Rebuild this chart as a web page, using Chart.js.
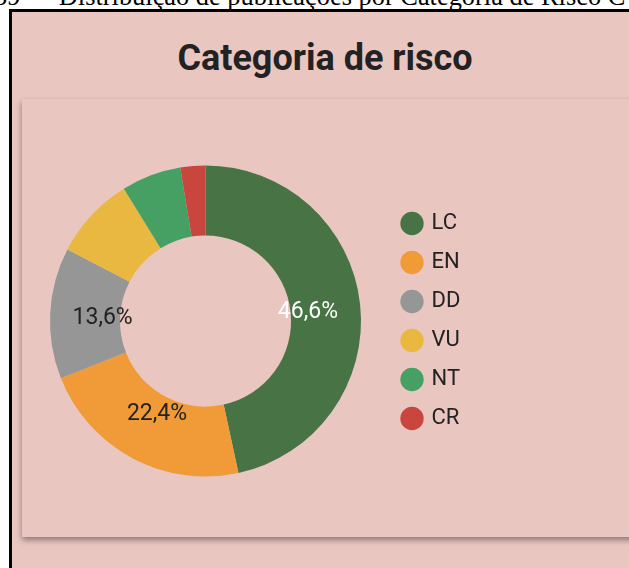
<!DOCTYPE html>
<html lang="pt-BR">
<head>
<meta charset="utf-8">
<title>Categoria de risco</title>
<script src="https://cdn.jsdelivr.net/npm/chart.js@4.4.1/dist/chart.umd.min.js"></script>
<style>
  html, body { margin: 0; padding: 0; background: #fff; overflow: hidden; }
  body { width: 629px; height: 568px; position: relative; }
  .legenda {
    position: absolute; top: -17px;
    font: 26.4px "Liberation Serif", "Times New Roman", serif;
    line-height: 26px; white-space: nowrap; color: #000;
  }
  #quadro {
    position: absolute; left: 9px; top: 9px; width: 626px; height: 600px;
    border: 3px solid #000; background: #eac6c1;
  }
  #titulo {
    position: absolute; left: 9px; top: 38px; width: 632px;
    text-align: center; font: bold 36px Roboto, sans-serif; line-height: 40px;
    color: #222;
  }
  #painel {
    position: absolute; left: 22px; top: 99px; width: 640px; height: 438px;
    background: #eac6c1; box-shadow: 0 3px 6px rgba(0, 0, 0, 0.4);
  }
  #grafico { position: absolute; left: 0; top: 0; }
</style>
</head>
<body>
<div class="legenda" style="left:-6px">39</div>
<div class="legenda" style="left:39px">– Distribuição de publicações por Categoria de Risco C</div>
<div id="quadro"></div>
<div id="titulo">Categoria de risco</div>
<div id="painel"></div>
<canvas id="grafico" width="629" height="568"></canvas>
<script>
// categorias de risco e respectivos percentuais
const categorias = ['LC', 'EN', 'DD', 'VU', 'NT', 'CR'];
const percentuais = [46.6, 22.4, 13.6, 8.6, 6.2, 2.6];
const cores = ['#477345', '#f19b38', '#969696', '#e9b840', '#47a063', '#c9463f'];

const fonte = 'Roboto, sans-serif';
const legendaX = 386.5; // borda esquerda da legenda

// escreve o percentual dentro das fatias maiores
const rotulos = {
  id: 'rotulos',
  afterDatasetsDraw(chart) {
    const ctx = chart.ctx;
    const meta = chart.getDatasetMeta(0);
    const total = percentuais.reduce((a, b) => a + b, 0);
    ctx.save();
    ctx.font = '23px ' + fonte;
    ctx.textAlign = 'center';
    ctx.textBaseline = 'alphabetic';
    meta.data.forEach((arc, i) => {
      const pct = percentuais[i] / total * 100;
      if (pct < 10) return;
      const { x, y, startAngle, endAngle, innerRadius, outerRadius } = arc.getProps(
        ['x', 'y', 'startAngle', 'endAngle', 'innerRadius', 'outerRadius'], true);
      const meio = (startAngle + endAngle) / 2;
      const r = innerRadius + (outerRadius - innerRadius) * 0.25;
      const c = cores[i];
      const lum = (0.299 * parseInt(c.substr(1, 2), 16) + 0.587 * parseInt(c.substr(3, 2), 16) +
        0.114 * parseInt(c.substr(5, 2), 16)) / 255;
      ctx.fillStyle = lum < 0.45 ? '#ffffff' : '#222222';
      // baseline deslocada meia altura de maiúscula para centrar os dígitos
      ctx.fillText(pct.toFixed(1).replace('.', ',') + '%', x + Math.cos(meio) * r, y + Math.sin(meio) * r + 8);
    });
    ctx.restore();
  }
};

const ctx = document.getElementById('grafico').getContext('2d');
const grafico = new Chart(ctx, {
  type: 'doughnut',
  data: {
    labels: categorias,
    datasets: [{
      data: percentuais,
      backgroundColor: cores,
      borderWidth: 0
    }]
  },
  options: {
    responsive: false,
    animation: false,
    cutout: '55%',
    layout: { padding: { top: 165.5, bottom: 91.5, left: 24.5, right: 0 } },
    plugins: {
      tooltip: { enabled: false },
      legend: {
        position: 'right',
        labels: {
          usePointStyle: true,
          pointStyle: 'circle',
          boxWidth: 17,
          boxHeight: 16.5,
          padding: 17,
          color: '#222',
          font: { family: fonte, size: 22 }
        }
      }
    }
  },
  plugins: [rotulos]
});

// encosta a legenda na borda direita da área do gráfico
grafico.options.layout.padding.right = 629 - legendaX - grafico.legend.width;
grafico.update();
</script>
</body>
</html>
